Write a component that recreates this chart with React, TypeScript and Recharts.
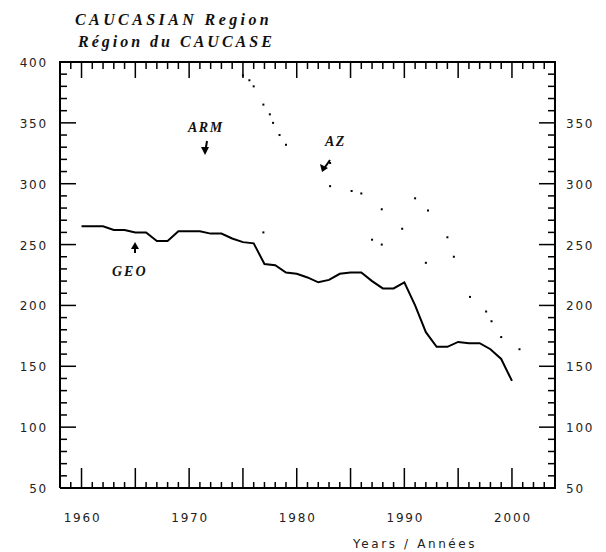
import React from "react";
import { ComposedChart, Line, Scatter, XAxis, YAxis } from "recharts";

// GEO
const geoYears = [1960, 1961, 1962, 1963, 1964, 1965, 1966, 1967, 1968, 1969, 1970, 1971, 1972, 1973, 1974, 1975, 1976, 1977, 1978, 1979, 1980, 1981, 1982, 1983, 1984, 1985, 1986, 1987, 1988, 1989, 1990, 1991, 1992, 1993, 1994, 1995, 1996, 1997, 1998, 1999, 2000];
const geoValues = [265, 265, 265, 262, 262, 260, 260, 253, 253, 261, 261, 261, 259, 259, 255, 252, 251, 234, 233, 227, 226, 223, 219, 221, 226, 227, 227, 220, 214, 214, 219, 200, 178, 166, 166, 170, 169, 169, 164, 156, 138];

// dotted series, only the dots that survived in the scan
const armYears = [1975, 1975.6, 1976, 1976.9, 1977.5, 1977.8, 1978.4, 1979, 1976.9, 1987, 1987.9, 1992, 1994.6];
const armValues = [389, 385, 380, 365, 357, 350, 340, 332, 260, 254, 250, 235, 240];
const azYears = [1983.1, 1983.1, 1985.1, 1986, 1987.9, 1989.8, 1991, 1992.2, 1994, 1996.1, 1997.6, 1998.1, 1999, 2000.7];
const azValues = [317, 298, 294, 292, 279, 263, 288, 278, 256, 207, 195, 187, 174, 164];

const xTickLabels = [1960, 1970, 1980, 1990, 2000];
const yTickLabels = [50, 100, 150, 200, 250, 300, 350, 400];
const rightTickLabels = [50, 100, 150, 200, 250, 300, 350];

const X_MIN = 1958;
const X_MAX = 2004;
const Y_MIN = 50;
const Y_MAX = 400;

// layout
const W = 606;
const H = 552;
const LEFT_W = 60;
const RIGHT_W = 51;
const TOP_H = 62;
const BOTTOM_H = 64;
const PLOT_W = W - LEFT_W - RIGHT_W;
const PLOT_H = H - TOP_H - BOTTOM_H;

const xTicks: number[] = [];
for (let yr = X_MIN; yr <= X_MAX; yr++) xTicks.push(yr);
const yTicks: number[] = [];
for (let v = Y_MIN; v <= Y_MAX; v += 10) yTicks.push(v);

const geoData = geoYears.map((year, i) => ({ year, v: geoValues[i] }));
const armData = armYears.map((year, i) => ({ year, v: armValues[i] }));
const azData = azYears.map((year, i) => ({ year, v: azValues[i] }));

const tickFont = {
  fontFamily: "DejaVu Sans, sans-serif",
  fontSize: 12,
  letterSpacing: 1.8,
  fill: "#222",
};
const ink = "#000";

// bottom ticks point up; the same tick is mirrored on the top edge
function BottomTick(props: any) {
  const { x, y, payload } = props;
  const v = payload.value;
  const major = v % 5 === 0;
  const top = y - PLOT_H;
  return (
    <g>
      <rect x={x - 0.75} y={y - (major ? 20 : 6)} width={1.5} height={major ? 20 : 6} fill={ink} />
      <rect x={x - 0.75} y={top} width={1.5} height={major ? 16 : 7} fill={ink} />
      {xTickLabels.includes(v) && (
        <text x={x + 1} y={y + 34} textAnchor="middle" {...tickFont}>
          {v}
        </text>
      )}
    </g>
  );
}

// left ticks point right; mirrored on the right edge with its own labels
function LeftTick(props: any) {
  const { x, y, payload } = props;
  const v = payload.value;
  const len = v % 50 === 0 ? 16 : 7;
  const right = x + PLOT_W;
  return (
    <g>
      <rect x={x} y={y - 0.75} width={len} height={1.5} fill={ink} />
      <rect x={right - len} y={y - 0.75} width={len} height={1.5} fill={ink} />
      {yTickLabels.includes(v) && (
        <text x={x - 12} y={y + 5} textAnchor="end" {...tickFont}>
          {v}
        </text>
      )}
      {rightTickLabels.includes(v) && (
        <text x={right + 11} y={y + 5} textAnchor="start" {...tickFont}>
          {v}
        </text>
      )}
    </g>
  );
}

const Dot = (props: any) => <rect x={props.cx - 1} y={props.cy - 1} width={2} height={2} fill={ink} />;

const serifLabel = {
  fontFamily: "Liberation Serif, serif",
  fontStyle: "italic" as const,
  fontWeight: 700,
  fill: "#111",
};

export default function App() {
  return (
    <div style={{ position: "absolute", left: 0, top: 0, width: W, height: H, background: "#fff" }}>
      <ComposedChart width={W} height={H} margin={{ top: TOP_H, right: RIGHT_W, bottom: 0, left: 0 }}>
        <XAxis
          dataKey="year"
          type="number"
          domain={[X_MIN, X_MAX]}
          ticks={xTicks}
          interval={0}
          height={BOTTOM_H}
          tickSize={0}
          tickMargin={0}
          tickLine={false}
          tick={BottomTick}
          axisLine={{ stroke: ink, strokeWidth: 2 }}
        />
        <YAxis
          dataKey="v"
          type="number"
          domain={[Y_MIN, Y_MAX]}
          ticks={yTicks}
          interval={0}
          width={LEFT_W}
          tickSize={0}
          tickMargin={0}
          tickLine={false}
          tick={LeftTick}
          axisLine={{ stroke: ink, strokeWidth: 2 }}
        />
        <Line
          data={geoData}
          dataKey="v"
          type="linear"
          stroke={ink}
          strokeWidth={2}
          dot={false}
          isAnimationActive={false}
        />
        <Scatter data={armData} dataKey="v" shape={Dot} isAnimationActive={false} />
        <Scatter data={azData} dataKey="v" shape={Dot} isAnimationActive={false} />
      </ComposedChart>

      <svg width={W} height={H} style={{ position: "absolute", left: 0, top: 0, pointerEvents: "none" }}>
        {/* top and right edges of the frame */}
        <rect x={LEFT_W - 1} y={TOP_H - 1} width={PLOT_W + 2} height={2} fill={ink} />
        <rect x={LEFT_W + PLOT_W - 1} y={TOP_H - 1} width={2} height={PLOT_H + 2} fill={ink} />

        <text x={75} y={25} fontSize={16} letterSpacing={3.4} {...serifLabel}>
          CAUCASIAN Region
        </text>
        <text x={78} y={47} fontSize={16} letterSpacing={3} {...serifLabel}>
          Région du CAUCASE
        </text>

        <text x={188} y={132} fontSize={14} letterSpacing={1.5} {...serifLabel}>
          ARM
        </text>
        <path d="M207 141 L205 153" stroke={ink} strokeWidth={2} />
        <path d="M201 147 L205 155 L209 147 Z" fill={ink} />

        <text x={325} y={146} fontSize={14} letterSpacing={1.5} {...serifLabel}>
          AZ
        </text>
        <path d="M330 160 L323 170" stroke={ink} strokeWidth={2} />
        <path d="M320 164 L322 172 L328 168 Z" fill={ink} />

        <path d="M135 244 L135 253" stroke={ink} strokeWidth={2} />
        <path d="M131 249 L135 242 L139 249 Z" fill={ink} />
        <text x={112} y={276} fontSize={14} letterSpacing={2} {...serifLabel}>
          GEO
        </text>

        <text x={353} y={548} fontFamily="DejaVu Sans, sans-serif" fontSize={12} letterSpacing={2.6} fill="#222">
          Years / Années
        </text>
      </svg>
    </div>
  );
}
